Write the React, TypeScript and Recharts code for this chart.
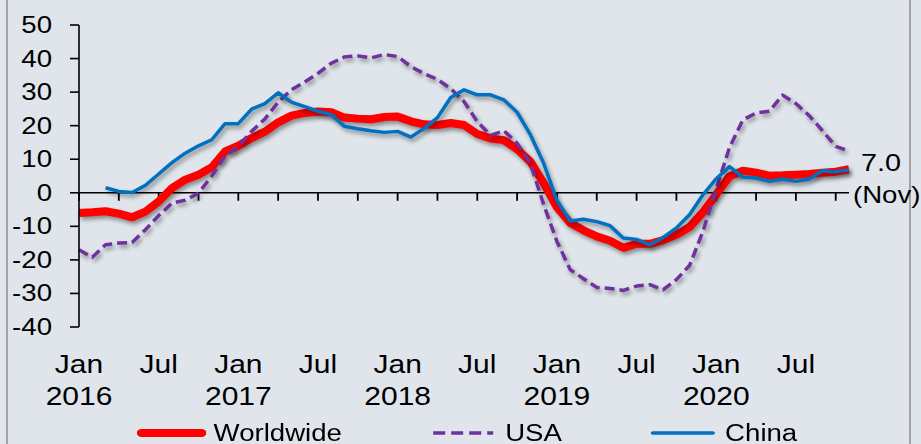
import { LineChart, Line, XAxis, YAxis, ReferenceLine, Legend } from "recharts";

// monthly, Jan 2016 .. Nov 2020 (% YoY)
const months = [
  "2016-01", "2016-02", "2016-03", "2016-04", "2016-05", "2016-06", "2016-07", "2016-08", "2016-09", "2016-10", "2016-11", "2016-12",
  "2017-01", "2017-02", "2017-03", "2017-04", "2017-05", "2017-06", "2017-07", "2017-08", "2017-09", "2017-10", "2017-11", "2017-12",
  "2018-01", "2018-02", "2018-03", "2018-04", "2018-05", "2018-06", "2018-07", "2018-08", "2018-09", "2018-10", "2018-11", "2018-12",
  "2019-01", "2019-02", "2019-03", "2019-04", "2019-05", "2019-06", "2019-07", "2019-08", "2019-09", "2019-10", "2019-11", "2019-12",
  "2020-01", "2020-02", "2020-03", "2020-04", "2020-05", "2020-06", "2020-07", "2020-08", "2020-09", "2020-10", "2020-11",
];

const worldwide = [
  -6.0, -5.8, -5.5, -6.2, -7.3, -5.6, -2.6, 1.4, 3.9, 5.4, 7.6, 12.3,
  14.0, 16.3, 18.2, 21.0, 23.0, 23.8, 24.2, 24.0, 22.4, 22.1, 21.9, 22.6,
  22.7, 21.3, 20.4, 20.2, 20.8, 20.2, 17.5, 16.2, 15.7, 13.0, 9.3, 2.9,
  -4.3, -9.0, -11.2, -13.0, -14.3, -16.4, -15.2, -15.2, -14.1, -12.5, -10.2, -5.8,
  -0.5, 4.9, 6.6, 6.0, 5.1, 5.2, 5.4, 5.6, 6.0, 6.3, 7.0,
];

const usa = [
  -17.0, -19.2, -15.5, -15.0, -14.8, -11.0, -6.8, -3.1, -2.2, -0.1, 5.0, 11.0,
  13.8, 18.3, 22.0, 27.0, 30.7, 33.0, 35.6, 38.6, 40.5, 40.8, 40.2, 41.2,
  40.6, 37.6, 35.5, 33.8, 31.0, 27.2, 21.2, 17.1, 18.5, 14.8, 8.8, -3.5,
  -14.5, -22.9, -25.6, -28.2, -28.5, -29.1, -27.8, -27.4, -28.9, -25.9, -21.6, -11.5,
  1.2, 13.5, 21.7, 23.8, 24.3, 29.1, 26.6, 23.0, 18.5, 13.8, 12.4,
];

const china = [
  null, null, 1.5, 0.4, 0.1, 2.2, 5.6, 9.0, 11.8, 14.0, 15.8, 20.6,
  20.6, 24.9, 26.6, 29.8, 27.0, 25.7, 24.3, 23.3, 19.8, 19.1, 18.5, 18.0,
  18.3, 16.6, 19.2, 22.4, 28.4, 30.7, 29.2, 29.2, 27.7, 24.0, 17.3, 8.8,
  -2.3, -8.4, -7.9, -8.6, -9.8, -13.5, -13.9, -15.5, -13.3, -10.5, -6.5, -0.6,
  4.2, 7.8, 4.7, 4.4, 3.4, 4.1, 3.4, 4.1, 6.6, 6.3, 6.8,
];

const yTicks = [-40, -30, -20, -10, 0, 10, 20, 30, 40, 50];

// tick marks every quarter, labels on Jan / Jul
const xTicks = [
  "2016-01", "2016-04", "2016-07", "2016-10", "2017-01", "2017-04", "2017-07", "2017-10",
  "2018-01", "2018-04", "2018-07", "2018-10", "2019-01", "2019-04", "2019-07", "2019-10",
  "2020-01", "2020-04", "2020-07", "2020-10",
];
const xTickLabels: Record<string, string[]> = {
  "2016-01": ["Jan", "2016"], "2016-07": ["Jul"],
  "2017-01": ["Jan", "2017"], "2017-07": ["Jul"],
  "2018-01": ["Jan", "2018"], "2018-07": ["Jul"],
  "2019-01": ["Jan", "2019"], "2019-07": ["Jul"],
  "2020-01": ["Jan", "2020"], "2020-07": ["Jul"],
};
const lastLabel = "(Nov)";

const data = months.map((m, i) => ({
  month: m,
  worldwide: worldwide[i],
  usa: usa[i],
  china: china[i],
}));

const SERIES = [
  { key: "worldwide", name: "Worldwide", color: "#FF0000", width: 8, dash: undefined },
  { key: "usa", name: "USA", color: "#7030A0", width: 3.5, dash: "10 5" },
  { key: "china", name: "China", color: "#0070C0", width: 3.5, dash: undefined },
];

const FONT = "'Liberation Sans', Arial, sans-serif";
const SX = 1.2; // the original text is stretched horizontally

const W = 921;
const H = 444;
const MARGIN = { top: 25, right: 72, left: 0, bottom: 0 };
const Y_AXIS_W = 79;
const X_AXIS_H = 91;
const LEGEND_H = 26;
const Y_MIN = -40;
const Y_MAX = 50;

const WideText = ({ x, y, anchor = "middle", size = 24, children }: any) => (
  <text
    transform={`translate(${x},${y}) scale(${SX},1)`}
    textAnchor={anchor}
    fontSize={size}
    fontFamily={FONT}
    fill="#000"
  >
    {children}
  </text>
);

const YTick = ({ x, y, payload }: any) => (
  <WideText x={x} y={y + 8} anchor="end" size={23}>
    {payload.value}
  </WideText>
);

const XTick = ({ x, y, payload }: any) => {
  const lines = xTickLabels[payload.value] || [];
  return (
    <g>
      {lines.map((t, i) => (
        <WideText key={i} x={x} y={y + 46 + i * 32} size={25}>
          {t}
        </WideText>
      ))}
    </g>
  );
};

// zero line drawn as the category axis, with quarterly tick marks hanging below it
const ZeroAxis = (props: any) => {
  const { x1, x2, y1 } = props;
  const step = (x2 - x1) / (months.length - 1);
  return (
    <g>
      <line x1={x1} x2={x2} y1={y1} y2={y1} stroke="#000" strokeWidth={1.6} />
      {xTicks.map((t) => {
        const tx = x1 + months.indexOf(t) * step;
        return <line key={t} x1={tx} x2={tx} y1={y1} y2={y1 + 8} stroke="#000" strokeWidth={1.8} />;
      })}
    </g>
  );
};

const EndLabel = ({ x, y, index, value }: any) => {
  if (index !== months.length - 1) return null;
  return (
    <g>
      <WideText x={x + 12} y={y + 2} anchor="start" size={24}>
        {value.toFixed(1)}
      </WideText>
      <WideText x={x + 4} y={y + 34} anchor="start" size={23}>
        {lastLabel}
      </WideText>
    </g>
  );
};

const renderLegend = ({ payload }: any) => {
  const entries = SERIES.map((s) => ({
    s,
    entry: (payload || []).find((p: any) => p.dataKey === s.key),
  })).filter((d) => d.entry);
  return (
    <div
      style={{
        height: LEGEND_H,
        display: "flex",
        alignItems: "center",
        paddingLeft: 114,
        marginTop: 2,
        transform: `scaleX(${SX})`,
        transformOrigin: "0 50%",
        fontFamily: FONT,
        fontSize: 23,
        color: "#000",
        whiteSpace: "nowrap",
      }}
    >
      {entries.map(({ s, entry }, i) => (
        <div key={i} style={{ display: "flex", alignItems: "center", marginRight: 72 }}>
          <svg width={58} height={12}>
            <line
              x1={4}
              x2={54}
              y1={6}
              y2={6}
              stroke={s.color}
              strokeWidth={s.width}
              strokeDasharray={s.dash}
              strokeLinecap={s.dash ? "butt" : "round"}
            />
          </svg>
          <span style={{ marginLeft: 6 }}>{entry.value}</span>
        </div>
      ))}
    </div>
  );
};

export default function App() {
  return (
    <div
      style={{
        position: "absolute",
        left: 0,
        top: 0,
        width: W,
        height: H,
        overflow: "hidden",
        background: "#dfe5ea",
      }}
    >
      <style>{`.recharts-line-curve { filter: drop-shadow(2px 3px 2px rgba(0,0,0,0.4)); }`}</style>
      <div
        style={{
          position: "absolute",
          left: 6,
          top: -4,
          width: 901,
          height: H + 8,
          border: "2px solid #a3a3a3",
        }}
      />
      <LineChart width={W} height={H} data={data} margin={MARGIN}>
        <XAxis
          dataKey="month"
          ticks={xTicks}
          interval={0}
          axisLine={false}
          tickLine={false}
          tickSize={0}
          tickMargin={0}
          height={X_AXIS_H}
          tick={<XTick />}
        />
        <YAxis
          domain={[Y_MIN, Y_MAX]}
          ticks={yTicks}
          width={Y_AXIS_W}
          axisLine={{ stroke: "#000", strokeWidth: 1.6 }}
          tickLine={{ stroke: "#000", strokeWidth: 1.6 }}
          tickSize={9}
          tickMargin={18}
          tick={<YTick />}
          allowDataOverflow
        />
        <ReferenceLine y={0} shape={<ZeroAxis />} />
        <Legend verticalAlign="bottom" height={LEGEND_H} content={renderLegend} />
        {SERIES.map((s) => (
          <Line
            key={s.key}
            type="linear"
            dataKey={s.key}
            name={s.name}
            stroke={s.color}
            strokeWidth={s.width}
            strokeDasharray={s.dash}
            strokeLinejoin="round"
            dot={false}
            activeDot={false}
            connectNulls={false}
            isAnimationActive={false}
            label={s.key === "worldwide" ? <EndLabel /> : undefined}
          />
        ))}
      </LineChart>
    </div>
  );
}
